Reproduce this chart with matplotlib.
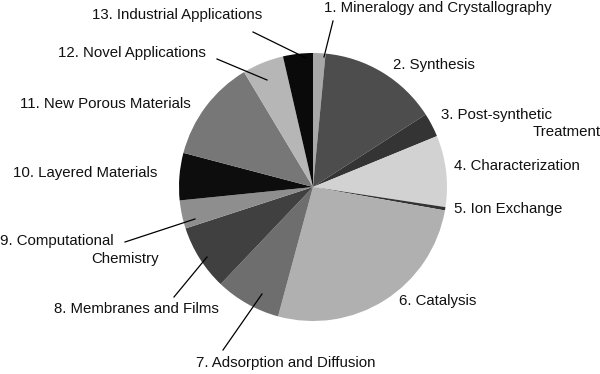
import matplotlib
matplotlib.use("Agg")
import matplotlib.pyplot as plt

# du lieu doc tu hinh (phan tram)
labels = ["1. Mineralogy and Crystallography", "2. Synthesis",
          "3. Post-synthetic\nTreatment", "4. Characterization",
          "5. Ion Exchange", "6. Catalysis", "7. Adsorption and Diffusion",
          "8. Membranes and Films", "9. Computational\nChemistry",
          "10. Layered Materials", "11. New Porous Materials",
          "12. Novel Applications", "13. Industrial Applications"]
shares = [1.5, 14.4, 2.9, 8.6, 0.4, 26.4, 7.9, 7.9, 3.4, 5.7, 12.3, 5.0, 3.6]
colors = ["#a8a8a8", "#4d4d4d", "#343434", "#d2d2d2", "#333333", "#b0b0b0",
          "#6e6e6e", "#404040", "#8e8e8e", "#0d0d0d", "#777777", "#b6b6b6", "#0a0a0a"]

plt.rcParams['font.family'] = ['Liberation Sans', 'DejaVu Sans']

W, H = 600, 374
fig = plt.figure(figsize=(6, 3.74), dpi=100)
ax = fig.add_axes([0, 0, 1, 1])

cx, cy, r = 313, 187, 134
ax.pie(shares, colors=colors, startangle=90, counterclock=False,
       center=(cx, H - cy), radius=r, wedgeprops=dict(linewidth=0))

# vi tri tung dong nhan (pixel, goc tren trai): (x, y) cho moi dong
line_pos = [[(324, 8)], [(393, 65)], [(441, 115), (533, 132)], [(454, 166)],
            [(454, 209)], [(399, 301)], [(196, 363)], [(54, 309)],
            [(0, 241), (91, 259)], [(13, 173)], [(20, 104)], [(58, 53)], [(92, 15)]]
for txt, pos in zip(labels, line_pos):
    for line, (x, y) in zip(txt.split("\n"), pos):
        ax.text(x, H - y, line, ha="left", va="center", fontsize=10.8,
                color="#111111")

# duong chi dan
leaders = [((333, 21), (324, 57)), ((262, 294), (223, 350)), ((207, 257), (174, 297)),
           ((125, 242), (195, 219)), ((217, 59), (267, 80)), ((253, 32), (306, 58))]
for (x0, y0), (x1, y1) in leaders:
    ax.plot([x0, x1], [H - y0, H - y1], color="black", lw=0.9)

ax.set_xlim(0, W)
ax.set_ylim(0, H)
ax.set_aspect("equal")
ax.axis("off")
fig.savefig("out.png", dpi=100)
